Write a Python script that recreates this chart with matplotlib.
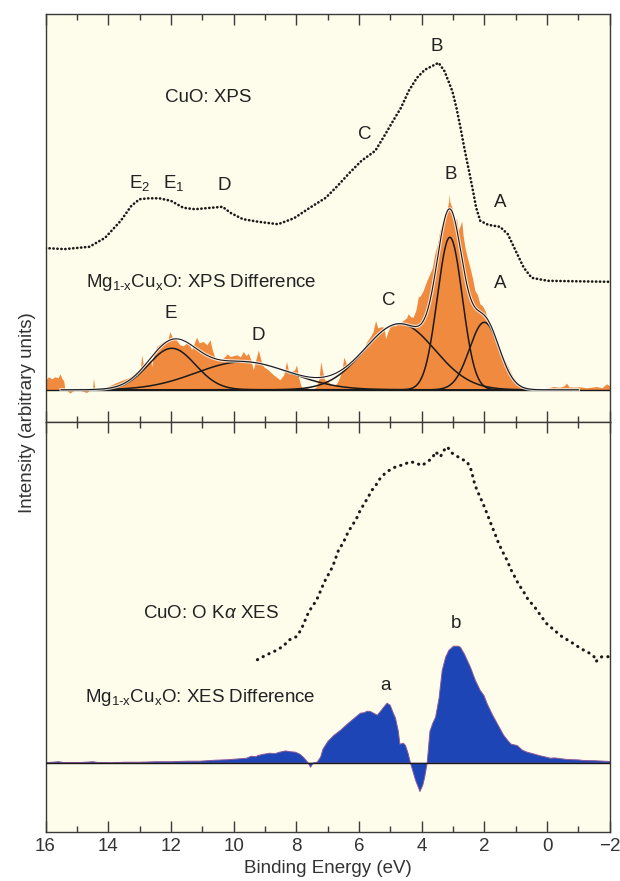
import numpy as np
import matplotlib
matplotlib.use("Agg")
import matplotlib.pyplot as plt

plt.rcParams['font.family'] = ['Liberation Sans', 'DejaVu Sans']
plt.rcParams['mathtext.fontset'] = 'custom'
plt.rcParams['mathtext.rm'] = 'Liberation Sans'
plt.rcParams['mathtext.it'] = 'Liberation Sans:italic'
plt.rcParams['mathtext.bf'] = 'Liberation Sans:bold'

# ---------------- data (binding energy eV, intensity arb. units) ----------------
# CuO XPS spectrum (top panel, dotted)
xps_E = [16.0, 15.4, 14.6, 14.1, 13.6, 13.26, 13.0, 12.7, 12.37, 12.0, 11.6, 11.23, 10.73,
         10.35, 10.1, 9.7, 9.2, 8.58, 8.07, 7.57, 7.06, 6.68, 6.3, 5.92, 5.48, 5.17, 4.91,
         4.66, 4.41, 4.15, 3.9, 3.65, 3.46, 3.27, 3.02, 2.89, 2.76, 2.64, 2.51, 2.38, 2.26,
         2.13, 1.88, 1.5, 1.25, 1.0, 0.74, 0.49, -0.02, -1.0, -2.0]
xps_I = [141.7, 140.7, 143, 152, 169, 184, 190.6, 191.5, 191.5, 189, 182, 180.6, 182,
         183, 177, 170.6, 168, 165.6, 171.6, 182, 192, 204, 217, 229, 239, 255, 269,
         282, 299, 312, 320, 324, 327, 318.6, 298.6, 282, 262, 242, 222, 202, 182,
         169, 165, 163, 155.6, 139, 122, 112, 109, 108.5, 108]

# Mg1-xCuxO XPS difference (top panel, orange fill)
xpsd_E = [16.0, 15.9, 15.8, 15.7, 15.6, 15.54, 15.47, 15.42, 15.38, 15.3, 15.22, 15.12, 15.0,
          14.85, 14.69, 14.58, 14.5, 14.47, 14.43, 14.26, 14.05, 13.9, 13.73, 13.52, 13.3,
          13.09, 12.97, 12.93, 12.88, 12.77, 12.65, 12.61, 12.55, 12.45, 12.24, 12.1, 12.03,
          11.95, 11.87, 11.71, 11.6, 11.5, 11.4, 11.34, 11.26, 11.18, 11.1, 10.97, 10.85,
          10.75, 10.68, 10.59, 10.38, 10.2, 10.11, 9.9, 9.78, 9.69, 9.6, 9.53, 9.45, 9.37,
          9.29, 9.21, 9.13, 9.05, 8.9, 8.73, 8.6, 8.52, 8.4, 8.31, 8.23, 8.15, 8.05, 7.99,
          7.92, 7.83, 7.67, 7.51, 7.35, 7.27, 7.22, 7.17, 7.1, 7.03, 6.9, 6.82, 6.72, 6.66,
          6.55, 6.48, 6.4, 6.29, 6.18, 6.08, 5.97, 5.86, 5.75, 5.65, 5.55, 5.47, 5.4, 5.3,
          5.2, 5.15, 5.08, 4.96, 4.85, 4.75, 4.59, 4.48, 4.43, 4.35, 4.27, 4.18, 4.11, 4.04,
          3.95, 3.85, 3.74, 3.66, 3.58, 3.5, 3.42, 3.33, 3.26, 3.18, 3.14, 3.12, 3.10, 3.04,
          2.98, 2.94, 2.89, 2.83, 2.76, 2.72, 2.68, 2.62, 2.54, 2.46, 2.38, 2.3, 2.22, 2.14,
          2.06, 1.98, 1.9, 1.82, 1.74, 1.66, 1.58, 1.5, 1.4, 1.29, 1.18, 1.08, 0.97, 0.86,
          0.75, 0.65, 0.5, 0.33, 0.1, -0.05, -0.2, -0.4, -0.55, -0.62, -0.7, -0.84, -1.05,
          -1.26, -1.4, -1.58, -1.75, -1.9, -2.0]
xpsd_I = [10, 13, 11, 13, 12, 16, 11, 9, 0, -1, -3.3, -1, 0,
          -1, -2.7, 0, 1, 11.7, 1.5, 0.7, 2.7, 5, 7.3, 10, 12.7,
          18.3, 22, 35, 25, 26.7, 30, 23.3, 36, 43.3, 48.3, 50, 58.3,
          52, 51.7, 45, 44, 46.7, 45, 40, 46, 52.7, 47, 48.3, 45,
          50, 40, 31.7, 30, 36, 33.3, 35, 33, 38.3, 34, 36.7, 30, 20,
          30, 40, 30, 23.3, 20, 15, 12, 10, 15, 28.3, 16, 18.3, 20, 25,
          12, 1.7, 2.7, -0.7, 3.3, 12, 28.3, 20, 10, 9.3, 6, 4.3, 6, 9.3,
          18, 32.7, 26, 24.3, 30, 31, 36, 41, 48, 52.7, 58, 69.3, 62, 63,
          62.7, 51, 58, 66, 64, 66, 69.3, 72, 76, 73, 72.7, 80, 92.7, 94,
          99.3, 108, 116, 122, 136, 145, 159.3, 168, 176, 182, 188, 196, 188, 182.7,
          175, 166, 172, 159.3, 165, 169, 155, 142.7, 132, 122.7, 112, 99.3, 95, 86,
          84, 79.3, 72, 66, 58, 49.3, 44, 39.3, 33, 26, 19, 12.7, 8, 5.3,
          3, 1, 0.5, 0, 1, 2, 3.3, 2.5, 4, 6.7, 3, 2.7, 3,
          2, 2.5, 3.3, 2, 6, 4]

# Gaussian fit components E, D, C, B, A (centre eV, height, sigma eV)
fit_labels = ['E', 'D', 'C', 'B', 'A']
fit_center = [11.97, 9.7, 4.7, 3.1, 2.0]
fit_height = [41.5, 28.0, 66.0, 152.5, 67.5]
fit_sigma = [0.75, 1.5, 1.12, 0.40, 0.475]

# CuO O K-alpha XES (bottom panel, dotted)
xes_E = [9.24, 9.0, 8.8, 8.61, 8.4, 8.23, 8.0, 7.85, 7.6, 7.35, 7.1, 6.84, 6.65, 6.5, 6.34,
         6.2, 6.08, 5.95, 5.83, 5.7, 5.58, 5.45, 5.33, 5.15, 4.95, 4.75, 4.57, 4.4, 4.19,
         4.0, 3.81, 3.65, 3.56, 3.4, 3.3, 3.18, 3.05, 2.93, 2.75, 2.55, 2.42, 2.3, 2.17,
         2.04, 1.9, 1.79, 1.65, 1.54, 1.4, 1.28, 1.15, 1.03, 0.9, 0.78, 0.6, 0.4, 0.2,
         0.02, -0.25, -0.48, -0.75, -0.99, -1.2, -1.37, -1.5, -1.56, -1.65, -1.75, -1.9, -2.0]
xes_I = [103, 107, 110, 112.7, 117, 122.7, 126, 132.7, 151, 162.7, 181, 196, 212.7, 220, 231,
         238, 244, 253, 259, 266, 272.7, 278, 284, 290, 294, 297, 297.7, 301, 300,
         297, 301, 305, 311, 306, 312, 316, 310, 307.7, 304, 301, 292.7, 277.7, 268,
         259, 248, 239, 228, 219, 210, 202.7, 193, 186, 178, 172.7, 163, 156, 147,
         139.3, 132, 126, 121, 116, 112, 109.3, 106, 101, 104, 106, 106, 106]

# Mg1-xCuxO XES difference (bottom panel, blue fill)
xesd_E = [16.0, 15.6, 15.4, 15.0, 14.5, 14.3, 13.9, 13.5, 13.0, 12.5, 12.0, 11.5, 11.1,
          10.6, 10.2, 9.87, 9.6, 9.45, 9.3, 9.24, 9.05, 8.86, 8.7, 8.55, 8.36, 8.2, 8.04,
          7.9, 7.79, 7.65, 7.56, 7.48, 7.35, 7.24, 7.16, 7.0, 6.82, 6.6, 6.39, 6.2, 5.97,
          5.85, 5.75, 5.65, 5.55, 5.43, 5.3, 5.2, 5.12, 5.02, 4.92, 4.85, 4.76, 4.71, 4.6,
          4.53, 4.45, 4.37, 4.21, 4.07, 3.98, 3.92, 3.84, 3.75, 3.66, 3.57, 3.46, 3.36,
          3.25, 3.15, 3.0, 2.85, 2.78, 2.65, 2.46, 2.3, 2.15, 2.03, 1.92, 1.75, 1.54, 1.4,
          1.25, 1.16, 0.97, 0.8, 0.65, 0.44, 0.27, 0.1, -0.09, -0.23, -0.63, -0.99, -1.16,
          -1.5, -2.0]
xesd_I = [0.5, 1.5, 0.5, 0.5, 1.5, 0.5, 0.3, 1, 1, 1.5, 1.5, 2, 2,
          3, 3.5, 4.3, 5, 7, 6.5, 7.7, 9, 10, 9.5, 11, 12.3, 11.5, 11,
          9, 6, 1, -4, 0, 1, 6, 14.3, 22, 27.7, 33, 39, 44, 50,
          50.5, 52, 51.7, 50, 48, 53, 57, 60, 58, 50, 45, 32, 19, 20,
          17.7, 10, 0, -17, -28.3, -22, -14, 0, 32, 40, 46, 65, 92.7,
          106, 112.7, 117, 117, 116, 109, 96, 82.7, 73, 67.7, 59, 48, 36, 28,
          22, 19, 17.7, 13, 11, 9.3, 7.7, 6.5, 5, 5.3, 3.7, 3.3, 2.7,
          2.5, 1.7]

x_major = [16, 14, 12, 10, 8, 6, 4, 2, 0, -2]
x_tick_labels = ['16', '14', '12', '10', '8', '6', '4', '2', '0', '\u22122']

# ---------------- styling ----------------
BG = '#fefcea'
ORANGE = '#f08a3e'
BLUE = '#1d45b5'
INK = '#1a1a1a'
FRAME = '#3a3a3a'
FS = 13.5

fig = plt.figure(figsize=(6.2, 8.81), dpi=100)
fig.patch.set_facecolor('white')
L, W = 0.0734, 0.910
ax1 = fig.add_axes([L, 0.521, W, 0.4631])
ax2 = fig.add_axes([L, 0.0556, W, 0.4654])

for ax in (ax1, ax2):
    ax.set_facecolor(BG)
    ax.set_xlim(16, -2)
    ax.set_xticks(x_major)
    ax.set_xticks(np.arange(-1, 16, 2), minor=True)
    ax.set_yticks([])
    for s in ax.spines.values():
        s.set_color(FRAME)
        s.set_linewidth(1.0)
    ax.tick_params(axis='x', which='major', direction='in', length=8, width=1.0,
                   color=FRAME, top=True, bottom=True, labelsize=FS, labelcolor='#333333', pad=4)
    ax.tick_params(axis='x', which='minor', direction='in', length=4.5, width=1.0,
                   color=FRAME, top=True, bottom=True)

ax1.tick_params(axis='x', which='both', labelbottom=False)
ax2.set_xticklabels(x_tick_labels)

# ---------------- top panel ----------------
ax1.set_ylim(-32.2, 375.8)
ax1.fill_between(xpsd_E, 0, xpsd_I, color=ORANGE, linewidth=0, zorder=2)
ax1.axhline(0, color=INK, lw=1.0, zorder=3)

Eg = np.linspace(15.5, -1.0, 800)
comps = [h * np.exp(-(Eg - c) ** 2 / (2 * s ** 2))
         for c, h, s in zip(fit_center, fit_height, fit_sigma)]
env = np.sum(comps, axis=0)
for comp in comps:
    ax1.plot(Eg, comp, color=INK, lw=1.1, zorder=4)
ax1.plot(Eg, env, color='white', lw=2.4, alpha=0.75, zorder=4)
ax1.plot(Eg, env, color=INK, lw=0.8, zorder=5)

ax1.plot(xps_E, xps_I, color=INK, lw=1.9, linestyle=(0, (0.1, 1.4)),
         dash_capstyle='round', zorder=5)

tk = dict(fontsize=FS, color='#222222')
ax1.text(12.2, 292, 'CuO: XPS', ha='left', va='center', **tk)
ax1.text(3.52, 343.5, 'B', ha='center', va='center', **tk)
ax1.text(5.8, 255, 'C', ha='center', va='center', **tk)
ax1.text(13.0, 207, r'E$_2$', ha='center', va='center', **tk)
ax1.text(11.9, 207, r'E$_1$', ha='center', va='center', **tk)
ax1.text(10.29, 204, 'D', ha='center', va='center', **tk)
ax1.text(3.08, 215.5, 'B', ha='center', va='center', **tk)
ax1.text(1.5, 187, 'A', ha='center', va='center', **tk)
ax1.text(14.71, 107, r'Mg$_{\text{1-x}}$Cu$_{\text{x}}$O: XPS Difference', ha='left', va='center', **tk)
ax1.text(1.5, 106, 'A', ha='center', va='center', **tk)
ax1.text(5.04, 89, 'C', ha='center', va='center', **tk)
ax1.text(12.0, 76, 'E', ha='center', va='center', **tk)
ax1.text(9.22, 54, 'D', ha='center', va='center', **tk)

# ---------------- bottom panel ----------------
ax2.set_ylim(-69.3, 340.7)
ax2.fill_between(xesd_E, 0, xesd_I, facecolor=BLUE, edgecolor='#8a5a9a', linewidth=0.7, zorder=2)
ax2.axhline(0, color=INK, lw=1.0, zorder=3)
ax2.plot(xes_E, xes_I, color=INK, lw=2.2, linestyle=(0, (0.1, 2.0)),
         dash_capstyle='round', zorder=5)

ax2.text(12.9, 149.3, r'CuO: O K$\alpha$ XES', ha='left', va='center', **tk)
ax2.text(2.9, 139.3, 'b', ha='center', va='center', **tk)
ax2.text(5.14, 77.7, 'a', ha='center', va='center', **tk)
ax2.text(14.74, 65, r'Mg$_{\text{1-x}}$Cu$_{\text{x}}$O: XES Difference', ha='left', va='center', **tk)

ax2.set_xlabel('Binding Energy (eV)', fontsize=FS, color='#333333', labelpad=4)
fig.text(0.044, 1 - 413 / 881, 'Intensity (arbitrary units)', rotation=90,
         ha='center', va='center', fontsize=FS, color='#333333')

fig.savefig('out.png', dpi=100, facecolor='white')
